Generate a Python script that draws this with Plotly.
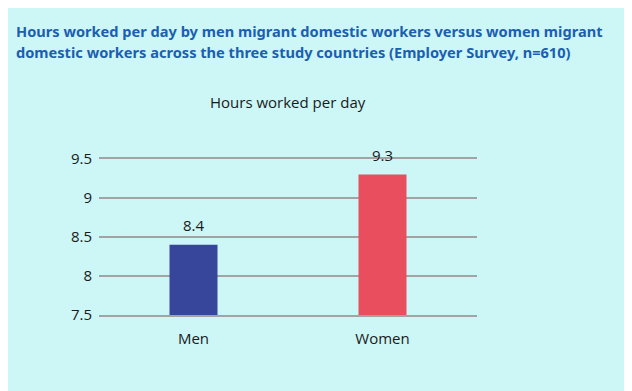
import plotly.graph_objects as go

categories = ["Men", "Women"]
hours = [8.4, 9.3]
bar_colors = ["#37459b", "#e94e5f"]
y_ticks = [7.5, 8, 8.5, 9, 9.5]
y_tick_labels = ["7.5", "8", "8.5", "9", "9.5"]
title_lines = [
    "Hours worked per day by men migrant domestic workers versus women migrant",
    "domestic workers across the three study countries (Employer Survey, n=610)",
]

txt_font = dict(family="Open Sans", size=15, color="#1a1a1a")
grid_col = "#a3a3a3"

fig = go.Figure()
fig.add_trace(go.Bar(
    x=categories, y=hours,
    marker=dict(color=bar_colors, line=dict(width=0)),
    width=0.254,
    hoverinfo="x+y",
))
for c, v in zip(categories, hours):
    fig.add_annotation(x=c, y=v, text=f"{v:.1f}", showarrow=False,
                       yanchor="bottom", yshift=8, font=txt_font)

bg = "#cdf6f6"
fig.update_layout(
    width=632, height=391,
    paper_bgcolor=bg, plot_bgcolor=bg,
    margin=dict(l=91, r=163, t=151, b=84),
    showlegend=False,
    font=txt_font,
    xaxis=dict(showgrid=False, showline=True, mirror=True, linecolor=grid_col,
               linewidth=1.5, ticks="", automargin=False,
               tickfont=txt_font, ticklabelstandoff=9),
    yaxis=dict(range=[7.5, 9.5], tickvals=y_ticks, ticktext=y_tick_labels,
               showgrid=True, gridcolor=grid_col, gridwidth=1.5,
               zeroline=False, showline=False, ticks="", ticklabelstandoff=6,
               automargin=False, tickfont=txt_font),
)

for line, shift in zip(title_lines, [128, 107]):
    fig.add_annotation(
        text=f"<b>{line}</b>",
        xref="paper", yref="paper", x=0, y=1, xanchor="left", yanchor="middle",
        xshift=-85, yshift=shift, align="left", showarrow=False,
        font=dict(family="Noto Sans", size=14.6, color="#1b5fb0"),
    )
fig.add_annotation(
    text="Hours worked per day",
    xref="paper", yref="paper", x=0.5, y=1, xanchor="center", yanchor="middle",
    yshift=57, showarrow=False, font=txt_font,
)

fig.write_html("out.html")
